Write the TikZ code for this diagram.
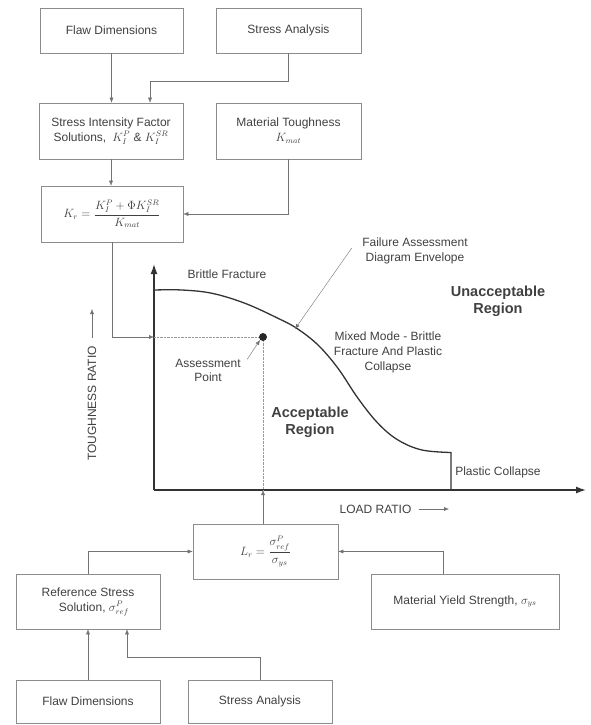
\documentclass[tikz,border=0pt]{standalone}
\usepackage{amsmath}
\usepackage{fontspec}
\setmainfont{Liberation Sans}
\usetikzlibrary{arrows.meta}

\begin{document}
\begin{tikzpicture}[x=1pt, y=-1pt,
    every node/.style={font=\fontsize{12}{15}\selectfont, text=black!75},
    box/.style={draw=black!45, semithick, align=center, inner sep=2pt},
    link/.style={draw=black!55, thin, -{Latex[length=5pt,width=4pt]}},
    axis/.style={draw=black!80, line width=1.4pt, -{Latex[length=10pt,width=7pt]}},
    guide/.style={draw=black!40, densely dotted},
    region/.style={font=\fontsize{14.5}{17}\selectfont\bfseries, align=center},
    label/.style={align=center}]
\useasboundingbox (0,0) rectangle (591,725);

\node[box, minimum width=143pt, minimum height=45pt] (fdA) at (111.5,30.5) {Flaw Dimensions};
\node[box, minimum width=145pt, minimum height=45pt] (saA) at (288.5,30.5) {Stress Analysis};
\node[box, minimum width=144pt, minimum height=56pt] (sif) at (111,131)
    {Stress Intensity Factor\\Solutions,\enspace $K_I^P$ \& $K_I^{SR}$};
\node[box, minimum width=145pt, minimum height=56pt] (mt) at (288.5,131)
    {Material Toughness\\$K_{mat}$};
\node[box, minimum width=142pt, minimum height=56pt] (kr) at (112,214)
    {$K_r = \dfrac{K_I^P + \Phi K_I^{SR}}{K_{mat}}$};

\draw[link] (fdA.south) -- (fdA.south |- sif.north);
\draw[link] (saA.south) -- ++(0,28) -| ([xshift=39pt]sif.north);
\draw[link] (sif.south) -- (sif.south |- kr.north);
\draw[link] (mt.south) |- (kr.east);

\coordinate (o) at (154,490);
\coordinate (ytop) at (154,264);
\coordinate (xend) at (586,490);
\draw[axis] (o) -- (ytop);
\draw[axis] (o) -- (xend);
\draw[draw=black!80, line width=1.3pt] plot[smooth, tension=0.6] coordinates {
    (154,290) (182,290) (212,293.3) (245,303.3) (278,318.3) (297,328.5)
    (318,345) (338,368.3) (358,398.3) (378,423.3) (398,440) (422,450) (451,452.5)}
    -- (451,490);

\node[circle, fill=black!85, inner sep=0pt, minimum size=8pt] (ap) at (263,337) {};
\draw[link] (kr.south) |- (o |- ap);
\draw[guide] (o |- ap) -- (ap.west);
\draw[guide] (ap.south) -- (ap |- o);

\node[label] (bf) at (227,274) {Brittle Fracture};
\node[label] (fad) at (415,251) {Failure Assessment\\Diagram Envelope};
\coordinate (envtip) at (295,329);
\draw[link] ([shift={(-7,-3)}]fad.west) -- (envtip);
\node[region] (unacc) at (498,301.5) {Unacceptable\\Region};
\node[label] (mm) at (388,352) {Mixed Mode - Brittle\\Fracture And Plastic\\Collapse};
\node[label, font=\fontsize{12}{14}\selectfont] (apt) at (208,370) {Assessment\\Point};
\draw[link] ([shift={(3,4)}]apt.north east) -- (ap.south west);
\node[region] (acc) at (310,422.5) {Acceptable\\Region};
\node[label] (pc) at (498,472) {Plastic Collapse};

\node[rotate=90] (tr) at (92,403.5) {TOUGHNESS RATIO};
\coordinate (trend) at (92,309);
\draw[link] ([shift={(0,-5)}]tr.east) -- (trend);
\node (ldr) at (375.5,509) {LOAD RATIO};
\coordinate (ldrend) at (449,509);
\draw[link] ([xshift=4pt]ldr.east) -- (ldrend);

\node[box, minimum width=145pt, minimum height=55pt] (lr) at (265.5,551.5)
    {$L_r = \dfrac{\sigma_{ref}^P}{\sigma_{ys}}$};
\node[box, minimum width=144pt, minimum height=55pt] (rs) at (88,601.5)
    {Reference Stress\\\quad Solution, $\sigma_{ref}^P$};
\node[box, minimum width=188pt, minimum height=55pt] (my) at (465,601.5)
    {Material Yield Strength, $\sigma_{ys}$};
\node[box, minimum width=144pt, minimum height=43pt] (fdB) at (88,701.5) {Flaw Dimensions};
\node[box, minimum width=144pt, minimum height=43pt] (saB) at (260,701.5) {Stress Analysis};

\draw[link] (lr.north -| ap) -- (ap |- o);
\draw[link] (rs.north) |- (lr.west);
\draw[link] ([xshift=-22pt]my.north) |- (lr.east);
\draw[link] (fdB.north) -- (fdB.north |- rs.south);
\draw[link] (saB.north) -- ++(0,-23) -| ([xshift=39pt]rs.south);
\end{tikzpicture}
\end{document}
